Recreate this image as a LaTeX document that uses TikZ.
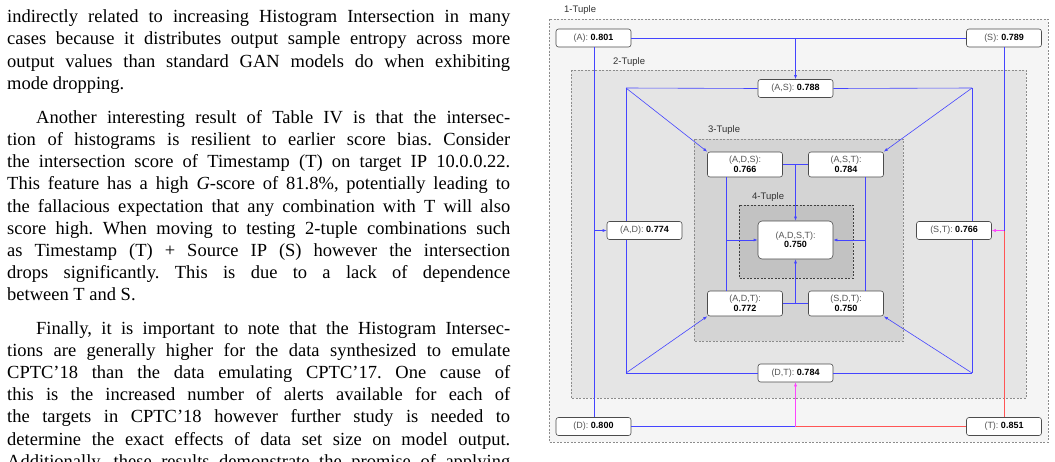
\documentclass[tikz,border=0pt]{standalone}
\usepackage{fontspec}
\setmainfont{Liberation Serif}
\newfontfamily\dsans{Liberation Sans}
\usetikzlibrary{arrows.meta}
\definecolor{lb}{HTML}{4444FF}
\definecolor{lr}{HTML}{FF5555}
\definecolor{lm}{HTML}{FF44FF}
\definecolor{lbl}{HTML}{555555}
\frenchspacing
\begin{document}
\begin{tikzpicture}[x=1pt,y=-1pt,
  para/.style={anchor=base west,inner sep=0pt},
  grp/.style={draw=gray!90,dashed,dash pattern=on 2pt off 1.5pt,line width=0.5pt},
  glab/.style={anchor=west,inner sep=0pt,font=\dsans\fontsize{9.5}{11}\selectfont,text=black!80},
  one/.style={draw=black!70,fill=white,rounded corners=2.5pt,minimum width=75pt,minimum height=18pt,inner sep=1pt,font=\dsans\fontsize{9}{10}\selectfont,line width=0.6pt},
  three/.style={one,minimum height=25pt,align=center,font=\dsans\fontsize{9}{9.5}\selectfont},
  four/.style={three,minimum height=38pt,rounded corners=4pt},
  bl/.style={lb,line width=0.6pt},
  arr/.style={-{Latex[length=4pt,width=3pt]}}
]
\useasboundingbox (0,0) rectangle (1055,461);
\clip (0,0) rectangle (1055,461);
% ---------- text ----------
\node[para] (p1) at (7,22.7) {\begin{minipage}[t]{503pt}\fontsize{18.5}{22.2}\selectfont\frenchspacing\noindent
indirectly related to increasing Histogram Intersection in many\linebreak
cases because it distributes output sample entropy across more\linebreak
output values than standard GAN models do when exhibiting\linebreak
mode dropping.\end{minipage}};
\node[para] (p2) at (7,123.3) {\begin{minipage}[t]{503pt}\fontsize{18.5}{22.2}\selectfont\frenchspacing\parindent=29pt
Another interesting result of Table IV is that the intersec-\linebreak
tion of histograms is resilient to earlier score bias. Consider\linebreak
the intersection score of Timestamp (T) on target IP 10.0.0.22.\linebreak
This feature has a high \textit{G}-score of 81.8\%, potentially leading to\linebreak
the fallacious expectation that any combination with T will also\linebreak
score high. When moving to testing 2-tuple combinations such\linebreak
as Timestamp (T) + Source IP (S) however the intersection\linebreak
drops significantly. This is due to a lack of dependence\linebreak
between T and S.\end{minipage}};
\node[para] (p3) at (7,334) {\begin{minipage}[t]{503pt}\fontsize{18.5}{22.2}\selectfont\frenchspacing\parindent=29pt\parfillskip=0pt
Finally, it is important to note that the Histogram Intersec-\linebreak
tions are generally higher for the data synthesized to emulate\linebreak
CPTC’18 than the data emulating CPTC’17. One cause of\linebreak
this is the increased number of alerts available for each of\linebreak
the targets in CPTC’18 however further study is needed to\linebreak
determine the exact effects of data set size on model output.\linebreak
Additionally, these results demonstrate the promise of applying\end{minipage}};
% ---------- groups ----------
\path[grp,fill=black!4] (549,19) rectangle (1048,442);
\path[grp,fill=black!10] (571,70) rectangle (1026,398);
\path[grp,fill=black!17] (694,139) rectangle (903,341);
\path[grp,fill=black!24,draw=black!75] (739,205) rectangle (853,278);
\node[glab] (g1) at (564,10) {1-Tuple};
\node[glab] (g2) at (613,62) {2-Tuple};
\node[glab] (g3) at (708,130.5) {3-Tuple};
\node[glab] (g4) at (752,197) {4-Tuple};
% ---------- coordinates ----------
\coordinate (c1) at (626,88);
\coordinate (c2) at (972,88);
\coordinate (c3) at (626,373);
\coordinate (c4) at (972,373);
% ---------- nodes ----------
\node[one] (A) at (593.5,38) {\textcolor{lbl}{(A):} \textbf{0.801}};
\node[one] (S) at (1004,38) {\textcolor{lbl}{(S):} \textbf{0.789}};
\node[one] (D) at (593.5,426.5) {\textcolor{lbl}{(D):} \textbf{0.800}};
\node[one] (T) at (1004,426.5) {\textcolor{lbl}{(T):} \textbf{0.851}};
\node[one] (AS) at (795.5,88.5) {\textcolor{lbl}{(A,S):} \textbf{0.788}};
\node[one] (DT) at (795.5,373) {\textcolor{lbl}{(D,T):} \textbf{0.784}};
\node[one] (AD) at (644.5,230.5) {\textcolor{lbl}{(A,D):} \textbf{0.774}};
\node[one] (ST) at (954,230.5) {\textcolor{lbl}{(S,T):} \textbf{0.766}};
\node[three] (ADS) at (745,164.5) {\textcolor{lbl}{(A,D,S):}\\\textbf{0.766}};
\node[three] (AST) at (846,164.5) {\textcolor{lbl}{(A,S,T):}\\\textbf{0.784}};
\node[three] (ADT) at (745,303.5) {\textcolor{lbl}{(A,D,T):}\\\textbf{0.772}};
\node[three] (SDT) at (846,303.5) {\textcolor{lbl}{(S,D,T):}\\\textbf{0.750}};
\node[four] (ADST) at (795.5,240) {\textcolor{lbl}{(A,D,S,T):}\\\textbf{0.750}};
% ---------- connectors ----------
\draw[bl] (A.east) -- (S.west);
\draw[bl,arr] (AS.north |- A.east) -- (AS.north);
\draw[bl] (A.south -| 594,0) -- (D.north -| 594,0);
\draw[bl,arr] (594,230.5) -- (AD.west);
\draw[bl] (S.south) -- (S.south |- ST.east);
\draw[lr] (T.north) -- (T.north |- ST.east);
\draw[lm,arr] (T.north |- ST.east) -- (ST.east);
\draw[bl] (D.east) -- (DT.south |- D.east);
\draw[lr] (T.west) -- (DT.south |- T.west);
\draw[lm,arr] (DT.south |- D.east) -- (DT.south);
\draw[bl] (c1) -- (AS.west) (AS.east) -- (c2);
\draw[bl] (c1) -- (c1 |- AD.north) (c2) -- (c2 |- ST.north);
\draw[bl,arr] (c1) -- (ADS.north west);
\draw[bl,arr] (c2) -- (AST.north east);
\draw[bl] (c3) -- (DT.west) (DT.east) -- (c4);
\draw[bl] (c3) -- (c3 |- AD.south) (c4) -- (c4 |- ST.south);
\draw[bl,arr] (c3) -- (ADT.south west);
\draw[bl,arr] (c4) -- (SDT.south east);
\draw[bl] (ADS.east) -- (AST.west);
\draw[bl,arr] (ADST.north |- ADS.east) -- (ADST.north);
\draw[bl] (ADT.east) -- (SDT.west);
\draw[bl,arr] (ADST.south |- ADT.east) -- (ADST.south);
\draw[bl] ([xshift=-19pt]ADS.south) -- ([xshift=-19pt]ADT.north);
\draw[bl,arr] ([xshift=-19pt]ADS.south |- ADST.west) -- (ADST.west);
\draw[bl] ([xshift=19pt]AST.south) -- ([xshift=19pt]SDT.north);
\draw[bl,arr] ([xshift=19pt]AST.south |- ADST.east) -- (ADST.east);
\end{tikzpicture}
\end{document}
